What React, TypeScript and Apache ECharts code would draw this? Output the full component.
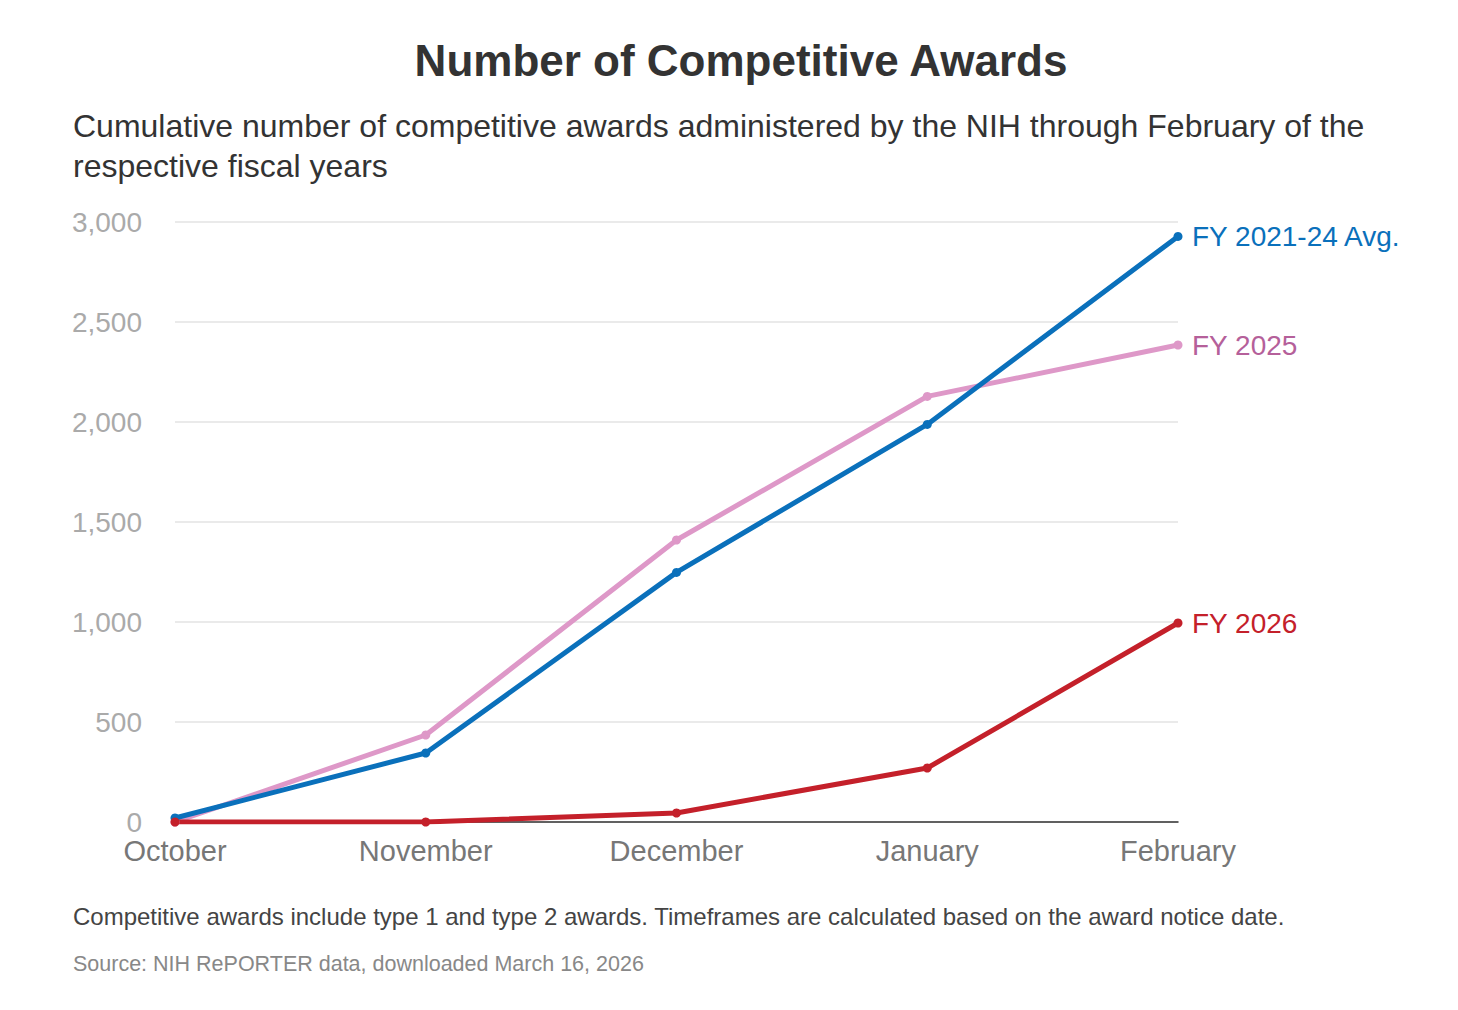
import React, { useRef, useEffect } from "react";
import * as echarts from "echarts";

const months = ["October", "November", "December", "January", "February"];
const avg2124 = [20, 345, 1248, 1988, 2928];
const fy2025 = [0, 435, 1410, 2128, 2385];
const fy2026 = [0, 0, 45, 270, 995];
const yTicks = [0, 500, 1000, 1500, 2000, 2500, 3000];

const FONT = "'Liberation Sans', Arial, sans-serif";

const mk = (name: string, data: number[], line: string, label: string) => ({
  name,
  type: "line",
  data,
  symbol: "circle",
  symbolSize: 9,
  lineStyle: { color: line, width: 5 },
  itemStyle: { color: line },
  endLabel: {
    show: true,
    formatter: name,
    color: label,
    fontSize: 28,
    fontFamily: FONT,
    distance: 14,
  },
});

const App: React.FC = () => {
  const ref = useRef<HTMLDivElement | null>(null);

  useEffect(() => {
    if (!ref.current) return;
    const chart = echarts.init(ref.current, undefined, { renderer: "svg" });
    chart.setOption({
      animation: false,
      textStyle: { fontFamily: FONT },
      grid: { left: 167, right: 272, top: 214, bottom: 180 },
      xAxis: {
        type: "category",
        data: months,
        boundaryGap: false,
        axisLine: { lineStyle: { color: "#333", width: 1.5 } },
        axisTick: { show: false },
        axisLabel: { color: "#777", fontSize: 29, margin: 14 },
      },
      yAxis: {
        type: "value",
        min: 0,
        max: 3000,
        interval: 500,
        axisLine: { show: false },
        axisTick: { show: false },
        splitLine: { lineStyle: { color: "#e3e3e3", width: 1.5 } },
        axisLabel: {
          color: "#aaa",
          fontSize: 28,
          margin: 33,
          formatter: (v: number) => (yTicks.includes(v) ? v.toLocaleString("en-US") : ""),
        },
      },
      series: [
        mk("FY 2025", fy2025, "#de98c8", "#b5609a"),
        mk("FY 2021-24 Avg.", avg2124, "#0a70bb", "#0a70bb"),
        mk("FY 2026", fy2026, "#c4202a", "#c4202a"),
      ],
      graphic: [
        {
          type: "text",
          x: 733,
          y: 52,
          style: {
            text: "Number of Competitive Awards",
            fill: "#333",
            font: `bold 44px ${FONT}`,
            align: "center",
            verticalAlign: "middle",
          },
        },
        {
          type: "text",
          x: 65,
          y: 98,
          style: {
            text:
              "Cumulative number of competitive awards administered by the NIH through February of the\nrespective fiscal years",
            fill: "#333",
            font: `32px ${FONT}`,
            lineHeight: 40,
          },
        },
        {
          type: "text",
          x: 65,
          y: 896,
          style: {
            text: "Competitive awards include type 1 and type 2 awards. Timeframes are calculated based on the award notice date.",
            fill: "#444",
            font: `24px ${FONT}`,
          },
        },
        {
          type: "text",
          x: 65,
          y: 945,
          style: {
            text: "Source: NIH RePORTER data, downloaded March 16, 2026",
            fill: "#888",
            font: `21.5px ${FONT}`,
          },
        },
      ],
    });
    return () => chart.dispose();
  }, []);

  return <div ref={ref} style={{ width: "100%", height: "994px" }} />;
};

export default App;
